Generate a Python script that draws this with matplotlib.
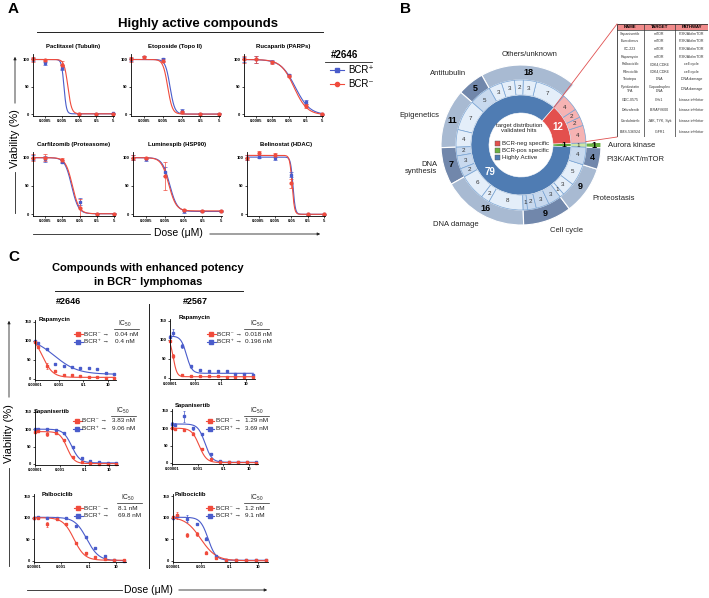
import numpy as np
import matplotlib.pyplot as plt
from matplotlib.lines import Line2D
from matplotlib.patches import Rectangle, FancyArrowPatch
from matplotlib.ticker import NullLocator

plt.rcParams['font.family'] = ['Liberation Sans', 'DejaVu Sans']
plt.rcParams['mathtext.fontset'] = 'custom'
plt.rcParams['mathtext.rm'] = 'Liberation Sans'
plt.rcParams['mathtext.it'] = 'Liberation Sans:italic'
plt.rcParams['mathtext.bf'] = 'Liberation Sans:bold'

W, H = 709, 598
BLUE = '#4a5ccb'
RED = '#f04b3c'
INK = '#222222'

# ---------------- panel A: highly active compounds (#2646)
doses_a = [0.0001, 0.0005, 0.005, 0.05, 0.5, 5]
ticks_a = [0.0005, 0.005, 0.05, 0.5, 5]
ticklabels_a = ['0.0005', '0.005', '0.05', '0.5', '5']
titles_a = ['Paclitaxel (Tubulin)', 'Etoposide (Topo II)', 'Rucaparib (PARPs)',
            'Carfilzomib (Proteasome)', 'Luminespib (HSP90)', 'Belinostat (HDAC)']
pos_a = [[100, 93, 85, 1, 1, 2],
         [100, 104, 100, 7, 1, 1],
         [100, 100, 96, 71, 22, 0],
         [100, 98, 93, 22, 1, 1],
         [100, 97, 75, 5, 5, 5],
         [100, 102, 100, 70, 0, 0]]
neg_a = [[100, 99, 90, 1, 1, 1],
         [100, 104, 98, 4, 1, 1],
         [100, 100, 95, 70, 15, 0],
         [100, 100, 96, 12, 1, 1],
         [100, 100, 68, 7, 6, 6],
         [100, 108, 105, 55, 0, 0]]
pos_err_a = [[3, 3, 5, 1, 1, 1], [3, 3, 3, 3, 1, 1], [4, 6, 3, 2, 4, 1],
             [4, 5, 3, 6, 1, 1], [4, 3, 8, 2, 1, 1], [5, 3, 4, 5, 1, 1]]
neg_err_a = [[4, 2, 8, 1, 1, 1], [4, 3, 3, 2, 1, 1], [6, 7, 3, 2, 3, 1],
             [6, 6, 3, 15, 1, 1], [5, 2, 25, 2, 1, 1], [5, 3, 3, 8, 1, 1]]
# fitted curves: top, bottom, IC50 (uM), hill slope
fit_pos_a = [(100, 1, 0.0065, 6), (100, 0.5, 0.012, 3.5), (100, -1, 0.12, 1.0),
             (100, 1, 0.017, 2.2), (100, 5, 0.009, 2.2), (101, 0, 0.062, 6)]
fit_neg_a = [(100, 1, 0.011, 4), (100, 0.5, 0.009, 3.5), (100, -1, 0.1, 1.1),
             (100, 1, 0.019, 2.2), (100, 6, 0.008, 2.2), (104, 0, 0.055, 6)]

# ---------------- panel B: target distribution
legend_b = ['BCR-neg specific', 'BCR-pos specific', 'Highly Active']
inner_vals = [1, 12, 79]
categories = ['Aurora kinase', '', 'Others/unknown', 'Antitubulin', 'Epigenetics',
              'DNA\nsynthesis', 'DNA damage', 'Cell cycle', 'Proteostasis', 'PI3K/AKT/mTOR']
outer_vals = [1, 12, 18, 5, 11, 7, 16, 9, 9, 4]
sub_vals = [[1], [4, 2, 2, 4], [7, 3, 2, 3, 3], [5], [7, 4], [2, 3, 2], [6, 2, 8],
            [1, 2, 3, 3], [1, 3, 5], [4]]

tbl_names = ['Sapanisertib', 'Everolimus', 'CC-223', 'Rapamycin', 'Palbociclib', 'Ribociclib',
             'Thiotepa', 'Pyridostatin\nTFA', 'GDC-0575', 'Dabrafenib', 'Cerdulatinib', 'BMS-536924']
tbl_targets = ['mTOR', 'mTOR', 'mTOR', 'mTOR', 'CDK4,CDK6', 'CDK4,CDK6', 'DNA',
               'G-quadruplex\nDNA', 'Chk1', 'B-RAFV600', 'JAK, TYK, Syk', 'IGFR1']
tbl_paths = ['PI3K/Akt/mTOR'] * 4 + ['cell cycle'] * 2 + ['DNA damage'] * 2 + ['kinase inhibitor'] * 4

# ---------------- panel C: enhanced potency in BCR- lymphomas
doses_c = [0.00001, 0.000018, 0.000091, 0.00046, 0.0023, 0.0115, 0.0575, 0.29, 1.44, 7.2, 36]
titles_c = ['Rapamycin', 'Rapamycin', 'Sapanisertib', 'Sapanisertib', 'Palbociclib', 'Palbociclib']
neg_c = [[98, 85, 35, 22, 11, 9, 7, 5, 4, 3, 1],
         [98, 58, 8, 6, 5, 4, 4, 3, 3, 2, 1],
         [93, 95, 85, 90, 69, 19, 5, 2, 1, 1, 1],
         [100, 98, 96, 84, 40, 11, 4, 3, 2, 2, 1],
         [100, 99, 85, 96, 86, 40, 17, 8, 4, 2, 1],
         [102, 106, 59, 62, 19, 6, 2, 1, 1, 1, 1]]
pos_c = [[100, 94, 79, 40, 34, 31, 29, 29, 26, 16, 12],
         [108, 119, 84, 30, 21, 19, 17, 17, 11, 11, 8],
         [100, 100, 100, 98, 88, 48, 16, 9, 5, 4, 2],
         [112, 110, 134, 100, 83, 27, 5, 3, 2, 2, 2],
         [100, 101, 100, 100, 100, 80, 56, 30, 10, 2, 0],
         [100, 105, 98, 85, 51, 10, 2, 1, 1, 1, 1]]
neg_err_c = [[2, 3, 8, 2, 1, 1, 1, 1, 1, 1, 1],
             [3, 6, 2, 1, 1, 1, 1, 1, 1, 1, 1],
             [4, 2, 6, 2, 2, 1, 1, 1, 1, 1, 1],
             [3, 2, 2, 4, 2, 1, 1, 1, 1, 1, 1],
             [2, 1, 6, 2, 2, 2, 3, 1, 1, 1, 1],
             [3, 8, 5, 5, 3, 2, 1, 1, 1, 1, 1]]
pos_err_c = [[2, 2, 1, 2, 1, 1, 1, 1, 1, 1, 1],
             [4, 9, 5, 3, 3, 2, 1, 1, 1, 1, 1],
             [2, 2, 2, 2, 2, 2, 2, 1, 1, 1, 1],
             [5, 4, 15, 4, 4, 2, 1, 1, 1, 1, 1],
             [1, 1, 1, 2, 1, 2, 2, 2, 1, 1, 1],
             [3, 3, 8, 2, 3, 2, 1, 1, 1, 1, 1]]
fit_neg_c = [(118, 4, 0.00004, 1.0), (105, 3, 0.000018, 3.0), (93, 1, 0.00383, 1.5),
             (100, 1, 0.00129, 1.5), (100, 1, 0.0081, 1.1), (102, 0, 0.0009, 0.8)]
fit_pos_c = [(110, 12, 0.0004, 0.45), (110, 12, 0.000196, 2.0), (100, 3, 0.00906, 1.3),
             (112, 2, 0.00369, 1.6), (101, 0, 0.0698, 1.0), (101, 1, 0.003, 1.6)]
ic50_neg_c = ['0.04 nM', '0.018 nM', '3.83 nM', '1.29 nM', '8.1 nM', '1.2 nM']
ic50_pos_c = ['0.4 nM', '0.196 nM', '9.06 nM', '3.69 nM', '69.8 nM', '9.1 nM']
ticks_c = [0.00001, 0.001, 0.1, 10]
ticklabels_c = ['0.00001', '0.001', '0.1', '10']


def logistic(x, top, bottom, ic50, hill):
    return bottom + (top - bottom) / (1 + (x / ic50) ** hill)


def box(l, t, r, b):
    return [l / W, 1 - b / H, (r - l) / W, (b - t) / H]


def fx(x):
    return x / W


def fy(y):
    return 1 - y / H


fig = plt.figure(figsize=(W / 100, H / 100), dpi=100)


def fline(xs, ys, **kw):
    kw.setdefault('color', INK)
    kw.setdefault('lw', 0.6)
    fig.add_artist(Line2D([fx(x) for x in xs], [fy(y) for y in ys], transform=fig.transFigure, **kw))


def farrow(x0, y0, x1, y1):
    fig.add_artist(FancyArrowPatch((fx(x0), fy(y0)), (fx(x1), fy(y1)), transform=fig.transFigure,
                                   arrowstyle='-|>', mutation_scale=4, lw=0.6, color=INK))


def style(ax, ticks, labels, yticks):
    ax.set_xscale('log')
    ax.set_xticks(ticks)
    ax.set_xticklabels(labels, fontsize=3, fontweight='bold')
    ax.xaxis.set_minor_locator(NullLocator())
    ax.set_yticks(yticks)
    ax.set_yticklabels([str(v) for v in yticks], fontsize=3, fontweight='bold')
    for s in ['top', 'right']:
        ax.spines[s].set_visible(False)
    for s in ['left', 'bottom']:
        ax.spines[s].set_linewidth(0.6)
    ax.tick_params(length=1.5, width=0.5, pad=1)
    ax.patch.set_alpha(0)


# ================= panel A
fig.text(fx(8), fy(9), 'A', fontsize=11, fontweight='bold', va='center')
fig.text(fx(198), fy(24), 'Highly active compounds', fontsize=9.5, fontweight='bold', ha='center', va='center')
fline([37, 323], [32, 32], lw=0.7)

boxes_a = [(33, 54, 114, 116), (131, 54, 220, 116), (244, 54, 323, 116),
           (33, 152, 115, 216), (133, 152, 222, 216), (247, 152, 325, 216)]
xs_a = np.logspace(np.log10(doses_a[0]), np.log10(doses_a[-1]), 300)
for i, b in enumerate(boxes_a):
    ax = fig.add_axes(box(*b))
    ax.plot(xs_a, logistic(xs_a, *fit_pos_a[i]), color=BLUE, lw=0.8)
    ax.plot(xs_a, logistic(xs_a, *fit_neg_a[i]), color=RED, lw=0.8)
    ax.errorbar(doses_a, pos_a[i], yerr=pos_err_a[i], fmt='s', color=BLUE, ms=2, elinewidth=0.5,
                capsize=1.2, capthick=0.5, clip_on=False)
    ax.errorbar(doses_a, neg_a[i], yerr=neg_err_a[i], fmt='o', color=RED, ms=2, elinewidth=0.5,
                capsize=1.2, capthick=0.5, clip_on=False)
    ax.set_xlim(1e-4, 5.5)
    ax.set_ylim(-3, 110)
    style(ax, ticks_a, ticklabels_a, [0, 50, 100])
    ax.set_title(titles_a[i], fontsize=4.3, fontweight='bold', pad=4.5)

# legend A
fig.text(fx(345), fy(55), '#2646', fontsize=7, fontweight='bold', ha='center', va='center')
fline([325, 372], [62, 62], lw=0.6)
fline([330, 337, 344], [70, 70, 70], color=BLUE, lw=0.8, marker='s', ms=3, markevery=[1])
fig.text(fx(348), fy(70), 'BCR⁺', fontsize=7, va='center')
fline([330, 337, 344], [84, 84, 84], color=RED, lw=0.8, marker='o', ms=3, markevery=[1])
fig.text(fx(348), fy(84), 'BCR⁻', fontsize=7, va='center')

# axis captions A
fig.text(fx(15), fy(139), 'Viability (%)', rotation=90, fontsize=8, ha='center', va='center')
farrow(15, 106, 15, 54)
fline([15, 15], [172, 213])
fig.text(fx(178), fy(233), 'Dose (μM)', fontsize=7.5, ha='center', va='center')
fline([33, 150], [234, 234])
farrow(207, 234, 323, 234)

# ================= panel B
fig.text(fx(400), fy(9), 'B', fontsize=11, fontweight='bold', va='center')
axb = fig.add_axes(box(421, 45, 621, 245))
start = -2
total = sum(inner_vals)
light, dark = '#a8bad2', '#7187ab'
mlight, mdark = '#e4eef9', '#c8d9ee'
inner_colors = ['#5aa83a', '#e3504d', '#4f7cb3']
outer_colors = ['#6cb143', 'none', light, dark, light, dark, light, dark, light, dark]
cat_mid = ['#cde6a6', '#f6b3b3', mlight, mdark, mlight, mdark, mlight, mdark, mlight, mdark]
mid_vals = [v for g in sub_vals for v in g]
mid_colors = [cat_mid[k] for k, g in enumerate(sub_vals) for _ in g]

axb.pie(outer_vals, radius=80, startangle=start, counterclock=True, colors=outer_colors,
        wedgeprops=dict(width=15, edgecolor='white', linewidth=0.8))
axb.pie(mid_vals, radius=65, startangle=start, counterclock=True, colors=mid_colors,
        wedgeprops=dict(width=15, edgecolor='#78a3d3', linewidth=0.5))
axb.pie(inner_vals, radius=50, startangle=start, counterclock=True, colors=inner_colors,
        wedgeprops=dict(width=18, edgecolor='white', linewidth=0.4))
axb.set_xlim(-100, 100)
axb.set_ylim(-100, 100)
axb.set_aspect('equal')
axb.axis('off')


def mid_angle(vals, k):
    c = np.cumsum(vals)
    return np.deg2rad(start + 360 * (c[k] - vals[k] / 2) / total)


for k, v in enumerate(mid_vals):
    a = mid_angle(mid_vals, k)
    axb.text(57.5 * np.cos(a), 57.5 * np.sin(a), str(v), fontsize=4.5, color='#333333',
             ha='center', va='center')

for k, v in enumerate(outer_vals):
    if outer_colors[k] == 'none':
        continue
    a = mid_angle(outer_vals, k)
    axb.text(72.5 * np.cos(a), 72.5 * np.sin(a), str(v), fontsize=6.5, fontweight='bold',
             color='black', ha='center', va='center')
    c, s = np.cos(a), np.sin(a)
    ha = 'center' if abs(c) < 0.2 else ('left' if c > 0 else 'right')
    va = 'center' if abs(s) < 0.5 else ('bottom' if s > 0 else 'top')
    axb.text(87 * c, 87 * s, categories[k], fontsize=5.5, color=INK, ha=ha, va=va,
             linespacing=1.0)

inner_txt = [('1', 'black', 6), ('12', 'white', 7), ('79', 'white', 7)]
for k, v in enumerate(inner_vals):
    a = mid_angle(inner_vals, k)
    r = 43 if k == 0 else 41
    if k == 2:
        a = np.deg2rad(221)
    t, col, fs = inner_txt[k]
    axb.text(r * np.cos(a), r * np.sin(a), t, fontsize=fs, fontweight='bold', color=col,
             ha='center', va='center')

axb.text(-2, 17, 'target distribution\nvalidated hits', fontsize=4.3, ha='center', va='center',
         color=INK, linespacing=1.1)
for k, (lab, col) in enumerate(zip(legend_b, ['#e3504d', '#6cb143', '#4f7cb3'])):
    y = 2 - k * 7.2
    axb.add_patch(Rectangle((-26, y - 2.6), 5, 5, facecolor=col, edgecolor='#555555', lw=0.3))
    axb.text(-19.5, y, lab, fontsize=4.4, va='center', ha='left', color=INK)


# leader lines to the table
def to_fig(x, y):
    p = axb.transData.transform((x, y))
    return fig.transFigure.inverted().transform(p)


a1 = np.deg2rad(start + 360 * 13 / total)
p1 = to_fig(50 * np.cos(a1), 50 * np.sin(a1))
p2 = to_fig(65 * np.cos(np.deg2rad(3)), 65 * np.sin(np.deg2rad(3)))
fig.add_artist(Line2D([p1[0], fx(617)], [p1[1], fy(24)], transform=fig.transFigure, color='#e05050', lw=0.6))
fig.add_artist(Line2D([p2[0], fx(617)], [p2[1], fy(137)], transform=fig.transFigure, color='#e05050', lw=0.6))

# table
tb = fig.add_axes(box(617, 24, 708, 137))
tb.set_xlim(0, 91)
tb.set_ylim(113, 0)
tb.axis('off')
tb.add_patch(Rectangle((0, 0), 91, 6, facecolor='#f08a8a', edgecolor='none'))
tb.add_patch(Rectangle((0, 0), 91, 113, facecolor='none', edgecolor='#333333', lw=0.6))
for cx in [26.5, 58.3]:
    tb.plot([cx, cx], [0, 113], color='#333333', lw=0.5)
tb.plot([0, 91], [6, 6], color='#333333', lw=0.5)
col_x = [13.3, 42.4, 74.7]
for cx, h in zip(col_x, ['NAME', 'TARGET', 'PATHWAY']):
    tb.text(cx, 3.1, h, fontsize=3.2, fontweight='bold', ha='center', va='center')
row_h = [7.6] * 7 + [11] + [10.7] * 4
yc = 6 + np.cumsum(row_h) - np.array(row_h) / 2
for k in range(len(tbl_names)):
    for cx, t in zip(col_x, [tbl_names[k], tbl_targets[k], tbl_paths[k]]):
        tb.text(cx, yc[k], t, fontsize=2.6, ha='center', va='center', color='#333333', linespacing=1.0)

# ================= panel C
fig.text(fx(8), fy(257), 'C', fontsize=11, fontweight='bold', va='center')
fig.text(fx(148), fy(268), 'Compounds with enhanced potency', fontsize=8, fontweight='bold', ha='center', va='center')
fig.text(fx(148), fy(282), 'in BCR⁻ lymphomas', fontsize=8, fontweight='bold', ha='center', va='center')
fline([55, 243], [291, 291], lw=0.7)
fig.text(fx(68), fy(301), '#2646', fontsize=6.5, fontweight='bold', ha='center', va='center')
fig.text(fx(195), fy(301), '#2567', fontsize=6.5, fontweight='bold', ha='center', va='center')
fline([149, 149], [304, 568], lw=0.7)

boxes_c = [(35, 320, 116, 380), (170, 319, 255, 379), (35, 410, 118, 465),
           (172, 409, 258, 464), (34, 494, 126, 562), (173, 494, 268, 562)]
title_pos_c = [(55, 320), (195, 318), (52, 411), (193, 405), (57, 494), (190, 494)]
legend_pos_c = [(78, 334, 115, 125), (211, 334, 245, 257), (77, 421, 112, 123),
                (210, 421, 245, 257), (78, 508, 118, 128), (210, 508, 245, 257)]
xs_c = np.logspace(-5, np.log10(doses_c[-1]), 300)
for i, b in enumerate(boxes_c):
    ax = fig.add_axes(box(*b))
    ax.plot(xs_c, logistic(xs_c, *fit_pos_c[i]), color=BLUE, lw=0.8)
    ax.plot(xs_c, logistic(xs_c, *fit_neg_c[i]), color=RED, lw=0.8)
    ax.errorbar(doses_c, pos_c[i], yerr=pos_err_c[i], fmt='s', color=BLUE, ms=1.8, elinewidth=0.5,
                capsize=1.0, capthick=0.5, clip_on=False)
    ax.errorbar(doses_c, neg_c[i], yerr=neg_err_c[i], fmt='s', color=RED, ms=1.8, elinewidth=0.5,
                capsize=1.0, capthick=0.5, clip_on=False)
    ax.set_xlim(1e-5, 50)
    ax.set_ylim(-3, 155)
    style(ax, ticks_c, ticklabels_c, [0, 50, 100, 150])
    tx, ty = title_pos_c[i]
    fig.text(fx(tx), fy(ty), titles_c[i], fontsize=4.3, fontweight='bold', ha='center', va='center')
    lx, ly, vx, icx = legend_pos_c[i]
    for dy, col, lab, val in [(0, RED, 'BCR⁻', ic50_neg_c[i]), (7.5, BLUE, 'BCR⁺', ic50_pos_c[i])]:
        fline([lx - 4.5, lx, lx + 4.5], [ly + dy] * 3, color=col, lw=0.8, marker='s', ms=2.4, markevery=[1])
        fig.text(fx(lx + 5.5), fy(ly + dy), lab + ' →', fontsize=4.6, va='center', color=INK)
        fig.text(fx(vx), fy(ly + dy), val, fontsize=4.6, va='center', color=INK)
    fig.text(fx(icx), fy(ly - 10.5), 'IC$_{50}$', fontsize=4.8, ha='center', va='center', color=INK)
    fline([vx - 1, vx + 24], [ly - 5.5, ly - 5.5], lw=0.5)

fig.text(fx(9), fy(434), 'Viability (%)', rotation=90, fontsize=8, ha='center', va='center')
farrow(9, 400, 9, 318)
fline([9, 9], [468, 566])
fig.text(fx(148), fy(590), 'Dose (μM)', fontsize=7.5, ha='center', va='center')
fline([27, 122], [590, 590])
farrow(176, 590, 270, 590)

fig.savefig('out.png', dpi=100)
